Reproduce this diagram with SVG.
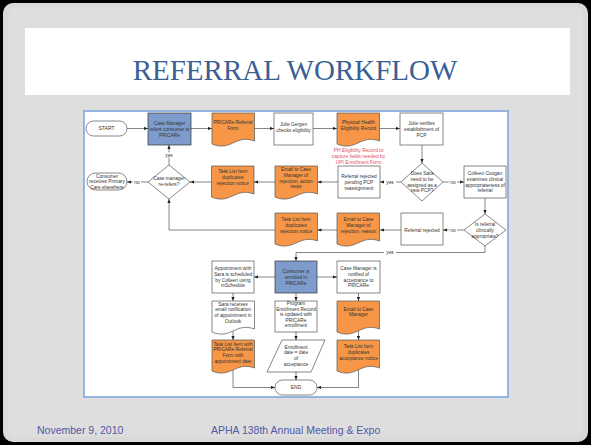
<svg xmlns="http://www.w3.org/2000/svg" xmlns:xlink="http://www.w3.org/1999/xlink" width="591" height="445" viewBox="0 0 591 445">
<style>
.t{font-family:"Liberation Sans",Arial,sans-serif;font-size:4.8px;fill:#333;text-anchor:middle}
.box{fill:#fff;stroke:#555;stroke-width:0.7}
.blue{fill:#7e9ccb;stroke:#333;stroke-width:0.7}
.org{fill:#f79646;stroke:#555;stroke-width:0.7}
.wdoc{fill:#fff;stroke:#555;stroke-width:0.7}
.c{fill:none;stroke:#333;stroke-width:0.6;marker-end:url(#ah)}
.lbl{fill:#fff}
.red{font-family:"Liberation Sans",Arial,sans-serif;font-size:4.9px;fill:#e0505f;text-anchor:middle}
.foot{font-family:"Liberation Sans",Arial,sans-serif;font-size:10.5px;fill:#4e5aa6}
</style>
<defs>
<marker id="ah" markerWidth="4" markerHeight="4" refX="4" refY="2" orient="auto" markerUnits="userSpaceOnUse"><path d="M0,0.4 L4,2 L0,3.6 z" fill="#222"/></marker>
<path id="doc" d="M0,0 H42.5 V28 C23.4,21 19.1,39 0,31 Z"/>
</defs>
<!-- slide background -->
<rect x="0" y="0" width="591" height="445" fill="#000"/>
<rect x="3" y="3" width="585" height="439" rx="10" fill="#d9d9d9"/>
<rect x="8" y="7" width="575" height="430" rx="8" fill="#dedede"/>
<rect x="25" y="28" width="545" height="67" fill="#fff"/>
<text x="295" y="80" font-family="Liberation Serif,Times New Roman,serif" font-size="29" fill="#3a5f95" text-anchor="middle">REFERRAL WORKFLOW</text>
<text class="foot" x="37" y="434">November 9, 2010</text>
<text class="foot" x="211" y="434">APHA 138th Annual Meeting &amp; Expo</text>
<!-- diagram frame -->
<rect x="84" y="111" width="424" height="286" fill="#fff" stroke="#7ea8dc" stroke-width="1.6"/>

<g id="connectors">
<path class="c" d="M127,128.5 H148"/>
<path class="c" d="M191,128.5 H212"/>
<path class="c" d="M254.5,128.5 H274"/>
<path class="c" d="M313,128.5 H337"/>
<path class="c" d="M379.5,128.5 H400"/>
<path class="c" d="M422,145 V163"/>
<path class="c" d="M443,182 H464"/>
<path class="c" d="M401,182 H380"/>
<path class="c" d="M338,182 H317.5"/>
<path class="c" d="M275,182 H254"/>
<path class="c" d="M211.5,182 H190"/>
<path class="c" d="M169,165 V145"/>
<path class="c" d="M148,182 H127"/>
<path class="c" d="M485,198 V214"/>
<path class="c" d="M464,230 H443"/>
<path class="c" d="M401,230 H380"/>
<path class="c" d="M337,230 H317.5"/>
<path class="c" d="M275,230 H169 V199"/>
<path class="c" d="M485,246 V252.5 H296 V261"/>
<path class="c" d="M275,277 H254"/>
<path class="c" d="M317,277 H337"/>
<path class="c" d="M233,293 V301"/>
<path class="c" d="M233,331 V340"/>
<path class="c" d="M296,293 V301"/>
<path class="c" d="M296,332 V340"/>
<path class="c" d="M358.5,293 V301"/>
<path class="c" d="M358.5,331 V340"/>
<path class="c" d="M233,370 V387.5 H275"/>
<path class="c" d="M296,372 V380"/>
<path class="c" d="M358.5,369 V387.5 H317"/>
<g id="labels">
<rect class="lbl" x="163" y="152.5" width="12" height="5"/><text class="t" x="169" y="156.5">yes</text>
<rect class="lbl" x="133" y="179.5" width="8" height="5"/><text class="t" x="137" y="183.5">no</text>
<rect class="lbl" x="384" y="179.5" width="12" height="5"/><text class="t" x="390" y="183.5">yes</text>
<rect class="lbl" x="449" y="179.5" width="8" height="5"/><text class="t" x="453" y="183.5">no</text>
<rect class="lbl" x="449" y="227.5" width="8" height="5"/><text class="t" x="453" y="231.5">no</text>
<rect class="lbl" x="384" y="250" width="12" height="5"/><text class="t" x="390" y="254">yes</text>
</g>
</g>

<g id="start"><rect class="box" x="86" y="121" width="41" height="15" rx="7.5"/><text class="t" x="106.5" y="130.2" style="font-size:5px">START</text></g>
<g id="cm-refers"><rect class="blue" x="148" y="113" width="43" height="32"/><text class="t" x="169.5" y="124.9"><tspan x="169.5">Case Manager</tspan><tspan x="169.5" dy="5.8">refers consumer to</tspan><tspan x="169.5" dy="5.8">PRICARe</tspan></text></g>
<g id="referral-form"><use href="#doc" x="212" y="113" class="org"/><text class="t" x="233" y="123.8"><tspan x="233">PRICARe Referral</tspan><tspan x="233" dy="5.8">Form</tspan></text></g>
<g id="julie-checks"><rect class="box" x="274" y="113" width="39" height="32"/><text class="t" x="293.5" y="126.3"><tspan x="293.5">Julie Gergen</tspan><tspan x="293.5" dy="5.8">checks eligibility</tspan></text></g>
<g id="ph-record"><use href="#doc" x="337" y="113" class="org"/><text class="t" x="358.5" y="124.3"><tspan x="358.5">Physical Health</tspan><tspan x="358.5" dy="5.8">Eligibility Record</tspan></text>
<text class="red" x="358.5" y="151.5"><tspan x="358.5">PH Eligibility Record to</tspan><tspan x="358.5" dy="6.2">capture fields needed by</tspan><tspan x="358.5" dy="6.2">UPI Enrollment Form</tspan></text></g>
<g id="julie-verifies"><rect class="box" x="400" y="113" width="43" height="32"/><text class="t" x="421.5" y="124.9"><tspan x="421.5">Julie verifies</tspan><tspan x="421.5" dy="5.8">establishment of</tspan><tspan x="421.5" dy="5.8">PCP</tspan></text></g>
<g id="does-sara"><polygon class="box" points="422,163 443,182 422,201 401,182"/><text class="t" x="422" y="175"><tspan x="422">Does Sara</tspan><tspan x="422" dy="5.8">need to be</tspan><tspan x="422" dy="5.8">assigned as a</tspan><tspan x="422" dy="5.8">new PCP?</tspan></text></g>
<g id="colleen"><rect class="box" x="464" y="166" width="42" height="32"/><text class="t" x="485" y="175"><tspan x="485">Colleen Coogan</tspan><tspan x="485" dy="5.8">examines clinical</tspan><tspan x="485" dy="5.8">appropriateness of</tspan><tspan x="485" dy="5.8">referral</tspan></text></g>
<g id="rejected-pending"><rect class="box" x="338" y="166" width="42" height="32"/><text class="t" x="359" y="177.9"><tspan x="359">Referral rejected</tspan><tspan x="359" dy="5.8">pending PCP</tspan><tspan x="359" dy="5.8">reassignment</tspan></text></g>
<g id="email-action"><use href="#doc" x="275" y="166" class="org"/><text class="t" x="296" y="171"><tspan x="296">Email to Case</tspan><tspan x="296" dy="5.8">Manager of</tspan><tspan x="296" dy="5.8">rejection, action</tspan><tspan x="296" dy="5.8">steps</tspan></text></g>
<g id="task-reject-1"><use href="#doc" x="211.5" y="166" class="org"/><text class="t" x="232.8" y="173.4"><tspan x="232.8">Task List Item</tspan><tspan x="232.8" dy="5.8">duplicates</tspan><tspan x="232.8" dy="5.8">rejection notice</tspan></text></g>
<g id="re-refers"><polygon class="box" points="169,165 190,182 169,199 148,182"/><text class="t" x="169" y="180.3"><tspan x="169">Case manager</tspan><tspan x="169" dy="5.8">re-refers?</tspan></text></g>
<g id="primary-care"><rect class="box" x="87" y="173" width="40" height="17" rx="8.5"/><text class="t" x="107" y="177.6"><tspan x="107">Consumer</tspan><tspan x="107" dy="5.5">receives Primary</tspan><tspan x="107" dy="5.5">Care elsewhere</tspan></text></g>
<g id="clinically"><polygon class="box" points="485,214 506,230 485,246 464,230"/><text class="t" x="485" y="225.9"><tspan x="485">Is referral</tspan><tspan x="485" dy="5.8">clinically</tspan><tspan x="485" dy="5.8">appropriate?</tspan></text></g>
<g id="rejected"><rect class="box" x="401" y="213" width="42" height="32"/><text class="t" x="422" y="231.5">Referral rejected</text></g>
<g id="email-reason"><use href="#doc" x="337" y="213" class="org"/><text class="t" x="358.5" y="221.4"><tspan x="358.5">Email to Case</tspan><tspan x="358.5" dy="5.8">Manager of</tspan><tspan x="358.5" dy="5.8">rejection, reason</tspan></text></g>
<g id="task-reject-2"><use href="#doc" x="275" y="213" class="org"/><text class="t" x="296" y="221.4"><tspan x="296">Task List Item</tspan><tspan x="296" dy="5.8">duplicates</tspan><tspan x="296" dy="5.8">rejection notice</tspan></text></g>
<g id="enrolled"><rect class="blue" x="275" y="261" width="42" height="32"/><text class="t" x="296" y="272.9"><tspan x="296">Consumer is</tspan><tspan x="296" dy="5.8">enrolled in</tspan><tspan x="296" dy="5.8">PRICARe</tspan></text></g>
<g id="cm-notified"><rect class="box" x="337" y="261" width="43" height="32"/><text class="t" x="358.5" y="270"><tspan x="358.5">Case Manager is</tspan><tspan x="358.5" dy="5.8">notified of</tspan><tspan x="358.5" dy="5.8">acceptance to</tspan><tspan x="358.5" dy="5.8">PRICARe</tspan></text></g>
<g id="appointment"><rect class="box" x="212" y="261" width="42" height="32"/><text class="t" x="233" y="270"><tspan x="233">Appointment with</tspan><tspan x="233" dy="5.8">Sara is scheduled</tspan><tspan x="233" dy="5.8">by Colleen using</tspan><tspan x="233" dy="5.8">mSchedule</tspan></text></g>
<g id="sara-email"><use href="#doc" x="212" y="301" class="wdoc"/><text class="t" x="233" y="305.5"><tspan x="233">Sara receives</tspan><tspan x="233" dy="5.8">email notification</tspan><tspan x="233" dy="5.8">of appointment in</tspan><tspan x="233" dy="5.8">Outlook</tspan></text></g>
<g id="program-record"><rect class="box" x="275" y="301" width="42" height="31"/><text class="t" x="296" y="305"><tspan x="296">Program</tspan><tspan x="296" dy="5.6">Enrollment Record</tspan><tspan x="296" dy="5.6">is updated with</tspan><tspan x="296" dy="5.6">PRICARe</tspan><tspan x="296" dy="5.6">enrollment</tspan></text></g>
<g id="email-cm"><use href="#doc" x="337" y="301" class="org"/><text class="t" x="358.5" y="310.5"><tspan x="358.5">Email to Case</tspan><tspan x="358.5" dy="5.8">Manager</tspan></text></g>
<g id="task-appt"><use href="#doc" x="212" y="340" class="org"/><text class="t" x="233" y="345.5"><tspan x="233">Task List Item with</tspan><tspan x="233" dy="5.8">PRICARe Referral</tspan><tspan x="233" dy="5.8">Form with</tspan><tspan x="233" dy="5.8">appointment date</tspan></text></g>
<g id="enroll-date"><polygon class="box" points="282,340 325,340 311,372 267,372"/><text class="t" x="296" y="348.5"><tspan x="296">Enrollment</tspan><tspan x="296" dy="5.8">date = date</tspan><tspan x="296" dy="5.8">of</tspan><tspan x="296" dy="5.8">acceptance</tspan></text></g>
<g id="task-accept"><use href="#doc" x="337" y="340" class="org"/><text class="t" x="358.5" y="347.9"><tspan x="358.5">Task List Item</tspan><tspan x="358.5" dy="5.8">duplicates</tspan><tspan x="358.5" dy="5.8">acceptance notice</tspan></text></g>
<g id="end"><rect class="box" x="275" y="380" width="42" height="15" rx="7.5"/><text class="t" x="296" y="389.2" style="font-size:5px">END</text></g>
</svg>
